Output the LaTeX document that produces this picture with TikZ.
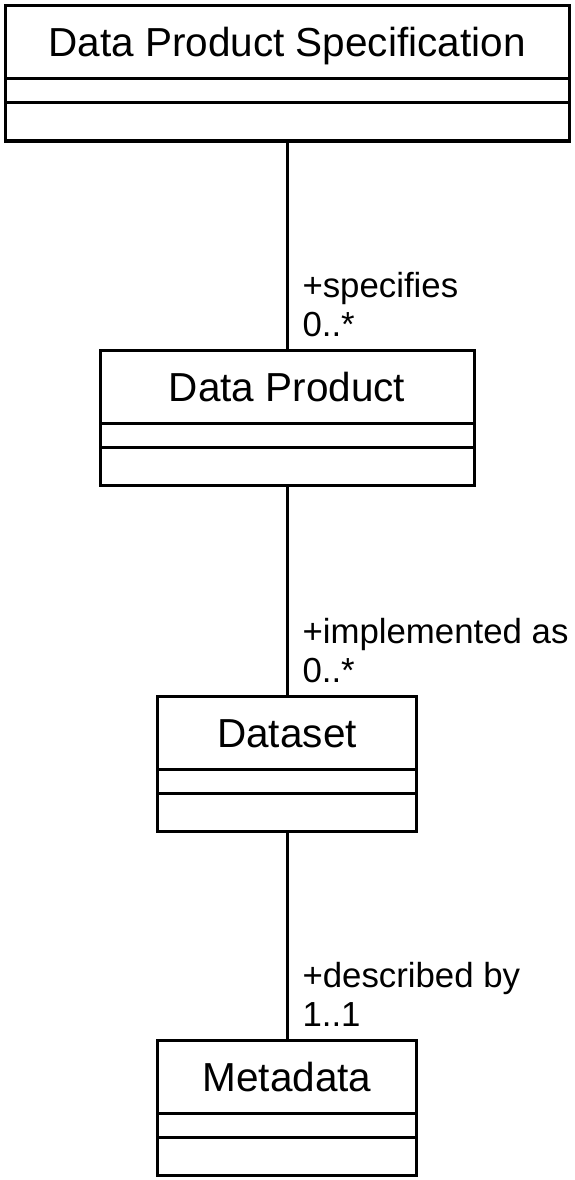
\documentclass[tikz,border=0pt]{standalone}
\usepackage{fontspec}
\setmainfont{Liberation Sans}
\usetikzlibrary{positioning}
\tikzstyle{cls}=[%
      rectangle, draw=black, line width=3pt, fill=white,
      outer sep=0pt, inner sep=0pt
]
\tikzstyle{clsname}=[%
      cls, minimum height=73pt, font=\fontsize{40.5}{48}\selectfont,
      text height=29pt, text depth=0pt
]
\tikzstyle{clsattr}=[cls, minimum height=24pt]
\tikzstyle{clsops}=[cls, minimum height=38pt]
\tikzstyle{role}=[%
      anchor=south west, align=left, inner sep=0pt,
      font=\fontsize{34.8}{39}\selectfont, xshift=14pt, yshift=12pt
]

\begin{document}
\begin{tikzpicture}[x=1pt, y=-1pt, node distance=0pt, line width=3pt]
    \useasboundingbox (0,0) rectangle (575,1180);

    \node[clsname, minimum width=564pt] (spec)   at (287,42.5)             {Data Product Specification};
    \node[clsattr, minimum width=564pt] (spec_a) [below = of spec]        {};
    \node[clsops,  minimum width=564pt] (spec_o) [below = of spec_a]      {};

    \node[clsname, minimum width=374pt] (dp)     [below = 209pt of spec_o] {Data Product};
    \node[clsattr, minimum width=374pt] (dp_a)   [below = of dp]          {};
    \node[clsops,  minimum width=374pt] (dp_o)   [below = of dp_a]        {};

    \node[clsname, minimum width=259pt] (ds)     [below = 211pt of dp_o]  {Dataset};
    \node[clsattr, minimum width=259pt] (ds_a)   [below = of ds]          {};
    \node[clsops,  minimum width=259pt] (ds_o)   [below = of ds_a]        {};

    \node[clsname, minimum width=259pt] (md)     [below = 209pt of ds_o]  {Metadata};
    \node[clsattr, minimum width=259pt] (md_a)   [below = of md]          {};
    \node[clsops,  minimum width=259pt] (md_o)   [below = of md_a]        {};

    \draw (spec_o) -- (dp) node[role, pos=1] {+specifies\\0..*};
    \draw (dp_o)   -- (ds) node[role, pos=1] {+implemented as\\0..*};
    \draw (ds_o)   -- (md) node[role, pos=1] {+described by\\1..1};

\end{tikzpicture}
\end{document}
